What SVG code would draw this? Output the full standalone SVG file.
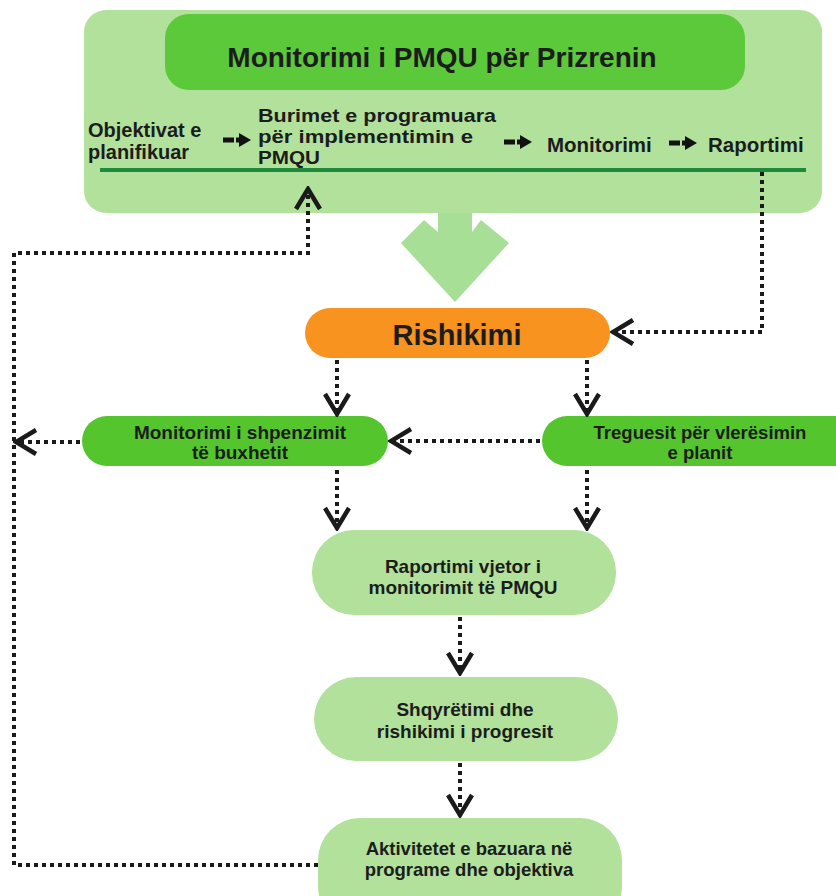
<svg xmlns="http://www.w3.org/2000/svg" width="836" height="896" viewBox="0 0 836 896">
<style>
.t{font-family:"Liberation Sans",Arial,sans-serif;font-weight:bold;fill:#1c1c1c;}
.dot{fill:none;stroke:#1a1a1a;stroke-width:4;stroke-dasharray:4 4;marker-end:url(#chev);}
.small{fill:none;stroke:#111;stroke-width:5;stroke-dasharray:11 2;marker-end:url(#tri);}
.light{fill:#b1e19b;}
.bright{fill:#55c52d;}
</style>
<defs>
<marker id="chev" markerUnits="userSpaceOnUse" viewBox="0 0 26 28" markerWidth="26" markerHeight="28" refX="23" refY="14" orient="auto">
<path d="M3 2 L23 14 L3 26" fill="none" stroke="#1a1a1a" stroke-width="4.5" stroke-dasharray="none" stroke-linejoin="miter"/>
</marker>
<marker id="tri" markerUnits="userSpaceOnUse" viewBox="0 0 12 14" markerWidth="12" markerHeight="14" refX="1" refY="7" orient="auto">
<path d="M0 0 L12 7 L0 14 Z" fill="#111"/>
</marker>
</defs>

<g id="header">
<rect x="84" y="10" width="738" height="203" rx="22" class="light"/>
<rect x="165" y="14" width="580" height="76" rx="24" fill="#5cc93a"/>
<text class="t" x="442" y="67" font-size="28" text-anchor="middle">Monitorimi i PMQU për Prizrenin</text>
<line x1="100" y1="170" x2="806" y2="170" stroke="#1d8a3c" stroke-width="4"/>
<text class="t" font-size="20"><tspan x="88" y="137">Objektivat e</tspan><tspan x="88" y="159">planifikuar</tspan></text>
<text class="t" font-size="18.5"><tspan x="258" y="122" textLength="238" lengthAdjust="spacingAndGlyphs">Burimet e programuara</tspan><tspan x="258" y="143" textLength="215" lengthAdjust="spacingAndGlyphs">për implementimin e</tspan><tspan x="258" y="164" textLength="62" lengthAdjust="spacingAndGlyphs">PMQU</tspan></text>
<text class="t" x="547" y="152" font-size="20.5">Monitorimi</text>
<text class="t" x="708" y="152" font-size="20.5">Raportimi</text>
</g>

<g id="bigarrow">
<polygon points="438,213 472,213 472,232 481,220 509,243 455,302 401,243 424,220 438,232" fill="#a8df97"/>
</g>

<g id="rishikimi">
<rect x="305" y="308" width="305" height="50" rx="25" fill="#f7931e"/>
<text class="t" x="457" y="345" font-size="29" text-anchor="middle">Rishikimi</text>
</g>

<g id="monitorimi-shpenzimit">
<rect x="82" y="416" width="306" height="50" rx="25" class="bright"/>
<text class="t" font-size="19" text-anchor="middle"><tspan x="240" y="439">Monitorimi i shpenzimit</tspan><tspan x="240" y="459">të buxhetit</tspan></text>
</g>

<g id="treguesit">
<rect x="542" y="416" width="320" height="50" rx="25" class="bright"/>
<text class="t" font-size="18.5" text-anchor="middle"><tspan x="700" y="439">Treguesit për vlerësimin</tspan><tspan x="700" y="459">e planit</tspan></text>
</g>

<g id="raportimi-vjetor">
<rect x="312" y="530" width="304" height="85" rx="42" class="light"/>
<text class="t" font-size="19" text-anchor="middle"><tspan x="463" y="573">Raportimi vjetor i</tspan><tspan x="463" y="594">monitorimit të PMQU</tspan></text>
</g>

<g id="shqyretimi">
<rect x="314" y="677" width="304" height="84" rx="42" class="light"/>
<text class="t" font-size="19" text-anchor="middle"><tspan x="465" y="716">Shqyrëtimi dhe</tspan><tspan x="465" y="738">rishikimi i progresit</tspan></text>
</g>

<g id="aktivitetet">
<rect x="318" y="818" width="304" height="110" rx="42" class="light"/>
<text class="t" font-size="18.5" text-anchor="middle"><tspan x="469" y="855">Aktivitetet e bazuara në</tspan><tspan x="469" y="876">programe dhe objektiva</tspan></text>
</g>

<g id="connectors">
<path class="small" d="M223 140 H240"/>
<path class="small" d="M504 142 H521"/>
<path class="small" d="M669 143 H686"/>
<path class="dot" d="M762 172 V332 H613"/>
<path class="dot" d="M318 865 H14 V253 H308 V189"/>
<path class="dot" d="M337 360 V414"/>
<path class="dot" d="M587 360 V414"/>
<path class="dot" d="M540 441 H391"/>
<path class="dot" d="M80 442 H16"/>
<path class="dot" d="M337 470 V528"/>
<path class="dot" d="M587 470 V528"/>
<path class="dot" d="M460 617 V673"/>
<path class="dot" d="M460 763 V815"/>
</g>
</svg>
